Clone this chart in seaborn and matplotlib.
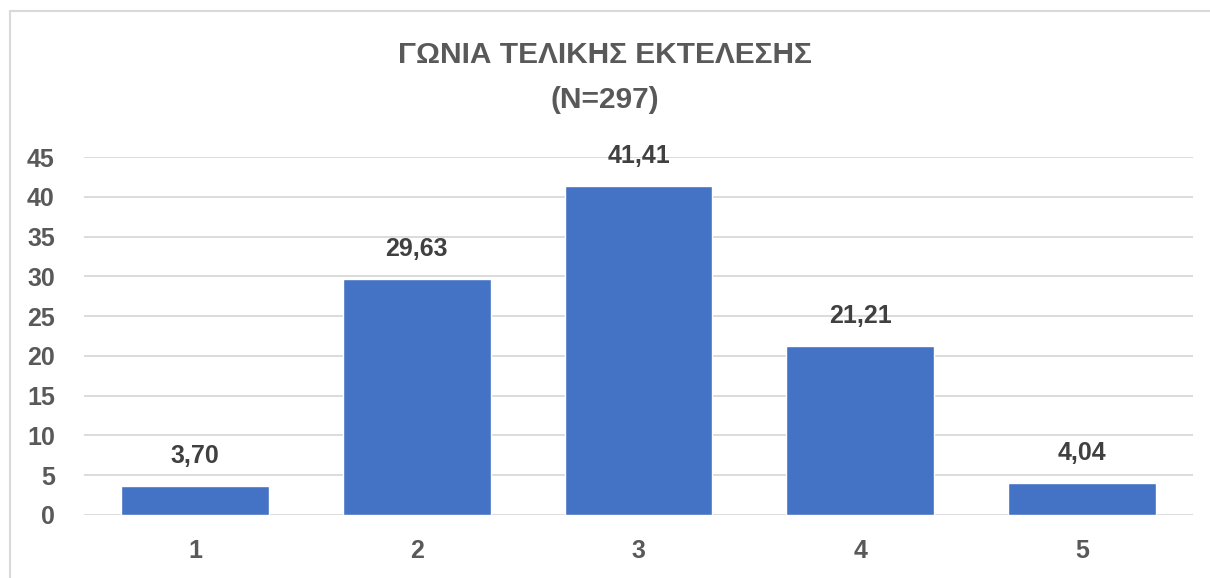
import matplotlib; matplotlib.use("Agg")
import matplotlib.pyplot as plt
import seaborn as sns
import pandas as pd
from matplotlib.lines import Line2D

categories = ["1", "2", "3", "4", "5"]
values = [3.70, 29.63, 41.41, 21.21, 4.04]
yticks = [0, 5, 10, 15, 20, 25, 30, 35, 40, 45]
title = "ΓΩΝΙΑ ΤΕΛΙΚΗΣ ΕΚΤΕΛΕΣΗΣ\n(N=297)"

BAR   = "#4472C4"
TICK  = "#595959"
LABEL = "#404040"
GRID  = "#D9D9D9"

sns.set_theme(style="white")
plt.rcParams["font.family"] = ["Liberation Sans", "DejaVu Sans"]
plt.rcParams["font.weight"] = "bold"

df = pd.DataFrame({"cat": categories, "val": values})

fig = plt.figure(figsize=(12.1, 5.78), dpi=100)
ax = fig.add_axes([0.0694, 0.109, 0.9166, 0.619])

sns.barplot(data=df, x="cat", y="val", color=BAR, width=0.667,
            saturation=1, ax=ax, zorder=3)

for i, v in enumerate(values):
    ax.annotate(f"{v:.2f}".replace(".", ","), (i, v), xytext=(0, 13),
                textcoords="offset points", ha="center", va="bottom",
                fontsize=18, fontweight="bold", color=LABEL)

ax.set_ylim(0, 45)
ax.set_yticks(yticks)
ax.yaxis.grid(True, color=GRID, lw=1.3, zorder=0)
ax.set_axisbelow(True)
for s in ax.spines.values():
    s.set_visible(False)
ax.set_xlabel("")
ax.set_ylabel("")
ax.tick_params(axis="both", length=0, labelsize=18, labelcolor=TICK)
ax.tick_params(axis="x", pad=17)
ax.tick_params(axis="y", pad=21)
for t in ax.get_xticklabels() + ax.get_yticklabels():
    t.set_fontweight("bold")

fig.text(0.5, 0.866, title, ha="center", va="center", fontsize=21.5,
         fontweight="bold", color=TICK, linespacing=1.75)

# chart border (only left and top visible in the crop)
fig.add_artist(Line2D([9.5/1210, 9.5/1210], [0, 1 - 11/578], color=GRID, lw=1.5,
                      transform=fig.transFigure))
fig.add_artist(Line2D([9.5/1210, 1], [1 - 11/578, 1 - 11/578], color=GRID, lw=1.5,
                      transform=fig.transFigure))

fig.savefig("out.png", dpi=100)
